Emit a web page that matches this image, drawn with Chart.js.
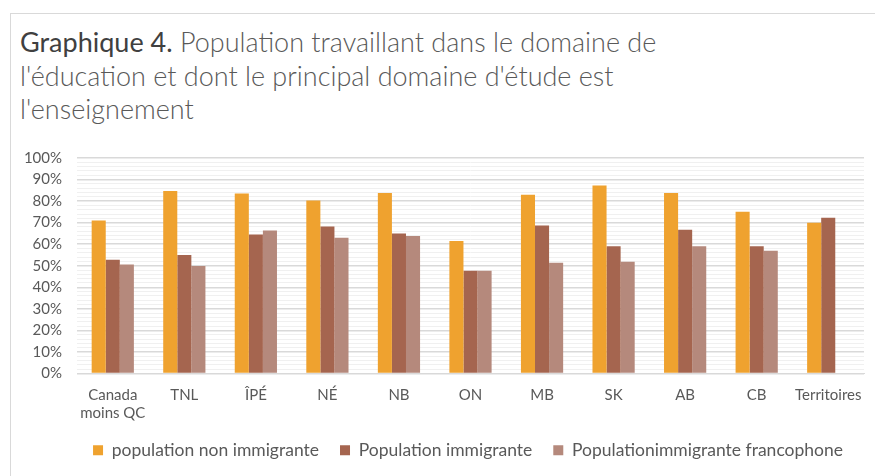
<!DOCTYPE html>
<html><head><meta charset="utf-8">
<script src="https://cdn.jsdelivr.net/npm/chart.js@4/dist/chart.umd.min.js"></script>
<style>
html,body{margin:0;padding:0;background:#fff;}
#wrap{position:relative;width:875px;height:476px;overflow:hidden;}
#frame{position:absolute;left:10px;top:13px;width:900px;height:500px;border:1px solid #d9d9d9;box-sizing:border-box;}
#title{position:absolute;left:20px;top:25px;font-family:Lato,"Open Sans",sans-serif;font-size:27px;line-height:33.5px;color:#595959;font-weight:300;}
#title b{font-weight:400;color:#404040;}
canvas{position:absolute;left:0;top:0;}
</style></head>
<body><div id="wrap">
<div id="frame"></div>
<div id="title"><b>Graphique 4.</b> Population travaillant dans le domaine de<br>l'éducation et dont le principal domaine d'étude est<br>l'enseignement</div>
<canvas id="c" width="875" height="476"></canvas>
</div>
<script>
const categories = [["Canada","moins QC"],"TNL","ÎPÉ","NÉ","NB","ON","MB","SK","AB","CB","Territoires"];
const nonImmigrante = [71.0,84.7,83.5,80.3,83.8,61.5,83.0,87.2,83.8,75.1,69.9];
const immigrante = [52.8,55.0,64.5,68.2,65.0,47.7,68.7,59.0,66.7,59.0,72.3];
const immigranteFrancophone = [50.6,49.9,66.4,63.0,63.8,47.7,51.4,51.8,59.0,57.0,null];
const seriesNames = ["population non immigrante","Population immigrante","Populationimmigrante francophone"];

const FONT = 'Lato, "Open Sans", sans-serif';
Chart.defaults.font.family = FONT;
Chart.defaults.color = '#595959';

new Chart(document.getElementById('c'), {
  type: 'bar',
  data: {
    labels: categories,
    datasets: [
      {label: seriesNames[0], data: nonImmigrante, backgroundColor: '#EFA22F'},
      {label: seriesNames[1], data: immigrante, backgroundColor: '#A5654F'},
      {label: seriesNames[2], data: immigranteFrancophone, backgroundColor: '#B5897C'}
    ]
  },
  options: {
    responsive: false,
    animation: false,
    devicePixelRatio: 1,
    datasets: {bar: {categoryPercentage: 0.59, barPercentage: 1.0}},
    layout: {padding: {top: 158, left: 10, right: 11, bottom: 7}},
    scales: {
      x: {
        afterFit: s => { s.height -= 15; },
        grid: {display: false, drawTicks: false},
        border: {display: true, color: '#d9d9d9', width: 1},
        ticks: {font: {size: 15}, color: '#595959', padding: 13, maxRotation: 0, autoSkip: false},
      },
      y: {
        min: 0, max: 100,
        afterFit: s => { s.width = 67; },
        border: {display: false},
        grid: {
          drawTicks: false,
          color: c => (c.tick && c.tick.value % 10 === 0) ? '#d9d9d9' : '#f0f0f0',
          lineWidth: c => (c.tick && c.tick.value % 10 === 0) ? 1.5 : 1
        },
        ticks: {
          stepSize: 2, autoSkip: false, padding: 15,
          font: {size: 15}, color: '#595959',
          callback: v => (v % 10 === 0) ? v + '%' : ''
        }
      }
    },
    plugins: {
      legend: {
        position: 'bottom',
        align: 'end',
        labels: {boxWidth: 10, boxHeight: 10, font: {size: 17.5}, color: '#595959', padding: 21}
      },
      tooltip: {enabled: false}
    }
  }
});
</script>
</body></html>
